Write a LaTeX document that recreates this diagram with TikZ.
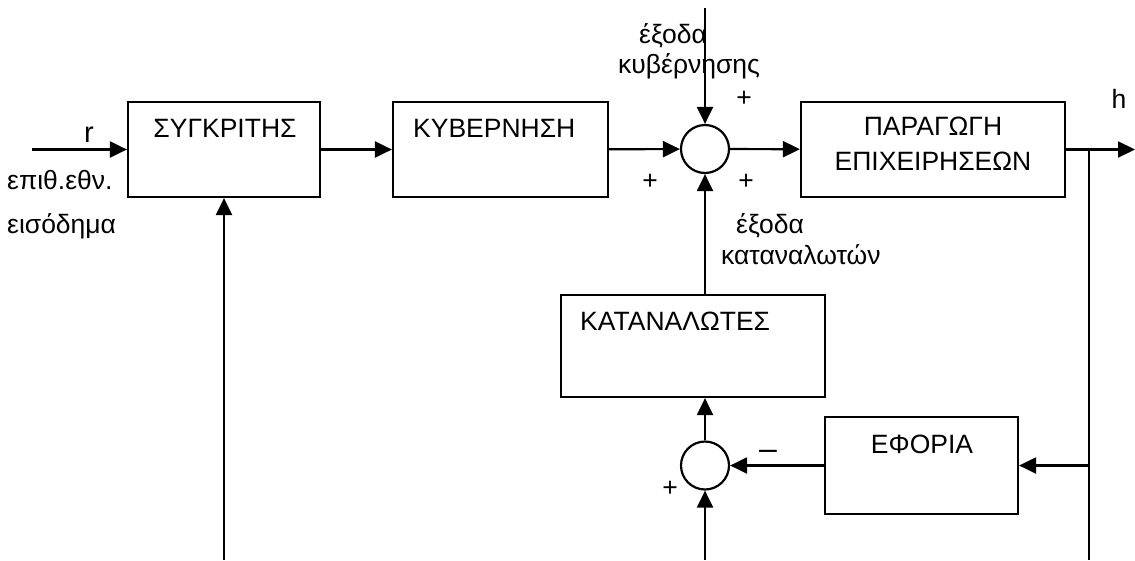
\documentclass[tikz,border=0pt]{standalone}
\usepackage{fontspec}
\setmainfont{Liberation Sans}
\usetikzlibrary{arrows.meta}
\begin{document}
\begin{tikzpicture}[x=1pt,y=-1pt,
  every node/.style={font=\fontsize{26.5}{31}\selectfont},
  blk/.style={draw, line width=2.2pt, rectangle, inner sep=0pt},
  sumc/.style={draw, line width=2.2pt, circle, minimum size=48pt, inner sep=0pt},
  txt/.style={inner sep=0pt, anchor=base},
  txtw/.style={inner sep=0pt, anchor=base west},
  ln/.style={line width=2.2pt},
  arr/.style={line width=2.2pt, -{Triangle[length=17pt,width=16pt]}}]
\useasboundingbox (0,0) rectangle (1135,560);
% blocks
\node[blk, minimum width=192pt, minimum height=95pt] (cmp) at (224,149.5) {};
\node[blk, minimum width=215pt, minimum height=95pt] (gov) at (500.5,149.5) {};
\node[sumc] (s1) at (705,149) {};
\node[blk, minimum width=264pt, minimum height=95pt] (prod) at (933,149.5) {};
\node[blk, minimum width=264pt, minimum height=102pt] (cons) at (693,346) {};
\node[blk, minimum width=193pt, minimum height=97pt] (tax) at (921.5,465.5) {};
\node[sumc] (s2) at (705,465.5) {};
% block texts
\node[txt] (tcmp) at (225,137) {ΣΥΓΚΡΙΤΗΣ};
\node[txtw] (tgov) at (413,137) {ΚΥΒΕΡΝΗΣΗ};
\node[txt] (tprod1) at (933,135) {ΠΑΡΑΓΩΓΗ};
\node[txt] (tprod2) at (933,170) {ΕΠΙΧΕΙΡΗΣΕΩΝ};
\node[txtw] (tcons) at (580,330) {ΚΑΤΑΝΑΛΩΤΕΣ};
\node[txt] (ttax) at (922,453) {ΕΦΟΡΙΑ};
% coordinates
\coordinate (rin) at (32,149.5);
\coordinate (top) at (705,8);
\coordinate (out) at (1135,149.5);
\coordinate (br) at (1089,149.5);
\coordinate (brbot) at (1089,560);
\coordinate (brtax) at (1089,465.5);
\coordinate (bot2) at (705,560);
\coordinate (bot1) at (224,560);
% connectors
\draw[arr] (rin) -- (cmp);
\draw[arr] (cmp) -- (gov);
\draw[arr] (gov) -- (s1);
\draw[arr] (s1) -- (prod);
\draw[arr] (top) -- (s1);
\draw[arr] (prod) -- (out);
\draw[ln] (br) -- (brbot);
\draw[arr] (brtax) -- (tax);
\draw[arr] (tax) -- (s2);
\draw[arr] (bot2) -- (s2);
\draw[arr] (s2.north) -- (s2.north |- cons.south);
\draw[arr] (s1.south |- cons.north) -- (s1.south);
\draw[arr] (bot1) -- (cmp);
% labels
\node[txt, font=\fontsize{29}{34}\selectfont] (lr) at (89,142) {r};
\node[txtw] (lin1) at (7,189) {επιθ.εθν.};
\node[txtw] (lin2) at (7,233) {εισόδημα};
\node[txtw] (lg1) at (639,43) {έξοδα};
\node[txtw] (lg2) at (618,73) {κυβέρνησης};
\node[txtw] (lc1) at (736,233) {έξοδα};
\node[txtw] (lc2) at (721,264) {καταναλωτών};
\node[txt] (lh) at (1119,108) {h};
\node[txt] (p1) at (744,106) {+};
\node[txt] (p2) at (650,189) {+};
\node[txt] (p3) at (746,189) {+};
\node[txt] (p4) at (670,496) {+};
\node[txt, font=\fontsize{32}{38}\selectfont] (m1) at (768,459) {–};
\end{tikzpicture}
\end{document}
